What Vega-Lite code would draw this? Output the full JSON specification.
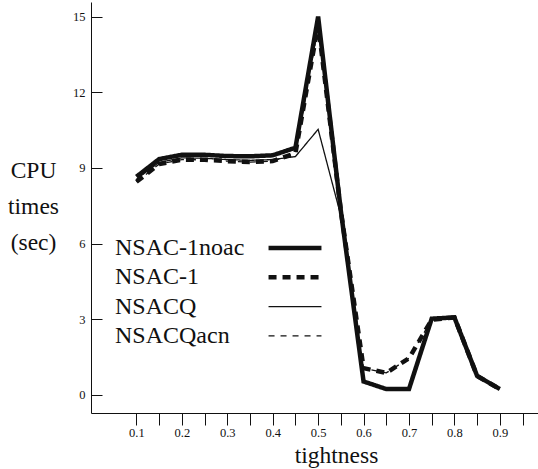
{
  "$schema": "https://vega.github.io/schema/vega-lite/v6.json",
  "width": 447,
  "height": 411,
  "autosize": "none",
  "padding": {"left": 91, "top": 2, "right": 0, "bottom": 56},
  "background": "white",
  "config": {"view": {"stroke": null}, "font": "Liberation Serif"},
  "data": {"values": [
    {"method": "NSAC-1noac", "tightness": 0.1, "cpu": 8.65},
    {"method": "NSAC-1noac", "tightness": 0.15, "cpu": 9.35},
    {"method": "NSAC-1noac", "tightness": 0.2, "cpu": 9.52},
    {"method": "NSAC-1noac", "tightness": 0.25, "cpu": 9.52},
    {"method": "NSAC-1noac", "tightness": 0.3, "cpu": 9.47},
    {"method": "NSAC-1noac", "tightness": 0.35, "cpu": 9.46},
    {"method": "NSAC-1noac", "tightness": 0.4, "cpu": 9.5},
    {"method": "NSAC-1noac", "tightness": 0.45, "cpu": 9.8},
    {"method": "NSAC-1noac", "tightness": 0.5, "cpu": 15.0},
    {"method": "NSAC-1noac", "tightness": 0.55, "cpu": 7.3},
    {"method": "NSAC-1noac", "tightness": 0.6, "cpu": 0.53},
    {"method": "NSAC-1noac", "tightness": 0.65, "cpu": 0.23},
    {"method": "NSAC-1noac", "tightness": 0.7, "cpu": 0.23},
    {"method": "NSAC-1noac", "tightness": 0.75, "cpu": 3.02},
    {"method": "NSAC-1noac", "tightness": 0.8, "cpu": 3.07},
    {"method": "NSAC-1noac", "tightness": 0.85, "cpu": 0.75},
    {"method": "NSAC-1noac", "tightness": 0.9, "cpu": 0.23},
    {"method": "NSAC-1", "tightness": 0.1, "cpu": 8.45},
    {"method": "NSAC-1", "tightness": 0.15, "cpu": 9.15},
    {"method": "NSAC-1", "tightness": 0.2, "cpu": 9.33},
    {"method": "NSAC-1", "tightness": 0.25, "cpu": 9.32},
    {"method": "NSAC-1", "tightness": 0.3, "cpu": 9.27},
    {"method": "NSAC-1", "tightness": 0.35, "cpu": 9.23},
    {"method": "NSAC-1", "tightness": 0.4, "cpu": 9.27},
    {"method": "NSAC-1", "tightness": 0.45, "cpu": 9.58},
    {"method": "NSAC-1", "tightness": 0.5, "cpu": 14.7},
    {"method": "NSAC-1", "tightness": 0.55, "cpu": 7.3},
    {"method": "NSAC-1", "tightness": 0.6, "cpu": 1.06},
    {"method": "NSAC-1", "tightness": 0.65, "cpu": 0.87},
    {"method": "NSAC-1", "tightness": 0.7, "cpu": 1.45},
    {"method": "NSAC-1", "tightness": 0.75, "cpu": 2.98},
    {"method": "NSAC-1", "tightness": 0.8, "cpu": 3.07},
    {"method": "NSAC-1", "tightness": 0.85, "cpu": 0.75},
    {"method": "NSAC-1", "tightness": 0.9, "cpu": 0.23},
    {"method": "NSACQ", "tightness": 0.1, "cpu": 8.55},
    {"method": "NSACQ", "tightness": 0.15, "cpu": 9.22},
    {"method": "NSACQ", "tightness": 0.2, "cpu": 9.4},
    {"method": "NSACQ", "tightness": 0.25, "cpu": 9.38},
    {"method": "NSACQ", "tightness": 0.3, "cpu": 9.33},
    {"method": "NSACQ", "tightness": 0.35, "cpu": 9.3},
    {"method": "NSACQ", "tightness": 0.4, "cpu": 9.33},
    {"method": "NSACQ", "tightness": 0.45, "cpu": 9.45},
    {"method": "NSACQ", "tightness": 0.5, "cpu": 10.53},
    {"method": "NSACQ", "tightness": 0.55, "cpu": 7.1},
    {"method": "NSACQ", "tightness": 0.6, "cpu": 0.53},
    {"method": "NSACQ", "tightness": 0.65, "cpu": 0.23},
    {"method": "NSACQ", "tightness": 0.7, "cpu": 0.23},
    {"method": "NSACQ", "tightness": 0.75, "cpu": 3.02},
    {"method": "NSACQ", "tightness": 0.8, "cpu": 3.07},
    {"method": "NSACQ", "tightness": 0.85, "cpu": 0.75},
    {"method": "NSACQ", "tightness": 0.9, "cpu": 0.23},
    {"method": "NSACQacn", "tightness": 0.1, "cpu": 8.45},
    {"method": "NSACQacn", "tightness": 0.15, "cpu": 9.15},
    {"method": "NSACQacn", "tightness": 0.2, "cpu": 9.33},
    {"method": "NSACQacn", "tightness": 0.25, "cpu": 9.32},
    {"method": "NSACQacn", "tightness": 0.3, "cpu": 9.27},
    {"method": "NSACQacn", "tightness": 0.35, "cpu": 9.23},
    {"method": "NSACQacn", "tightness": 0.4, "cpu": 9.27},
    {"method": "NSACQacn", "tightness": 0.45, "cpu": 9.58},
    {"method": "NSACQacn", "tightness": 0.5, "cpu": 14.6},
    {"method": "NSACQacn", "tightness": 0.55, "cpu": 7.3},
    {"method": "NSACQacn", "tightness": 0.6, "cpu": 1.06},
    {"method": "NSACQacn", "tightness": 0.65, "cpu": 0.87},
    {"method": "NSACQacn", "tightness": 0.7, "cpu": 1.45},
    {"method": "NSACQacn", "tightness": 0.75, "cpu": 2.98},
    {"method": "NSACQacn", "tightness": 0.8, "cpu": 3.07},
    {"method": "NSACQacn", "tightness": 0.85, "cpu": 0.75},
    {"method": "NSACQacn", "tightness": 0.9, "cpu": 0.23}
  ]},
  "mark": {"type": "line", "color": "#111"},
  "encoding": {
    "x": {
      "field": "tightness", "type": "quantitative",
      "scale": {"domain": [0, 0.984], "nice": false, "zero": false},
      "axis": {
        "values": [0.1, 0.15, 0.2, 0.25, 0.3, 0.35, 0.4, 0.45, 0.5, 0.55, 0.6, 0.65, 0.7, 0.75, 0.8, 0.85, 0.9, 0.95],
        "labelExpr": "(datum.value > 0.92 || round(datum.value * 100) % 10 != 0) ? '' : format(datum.value, '.1f')",
        "labelOverlap": false, "labelFlush": false,
        "grid": false,
        "tickSize": 12, "tickColor": "#111", "domainColor": "#111",
        "labelFont": "Liberation Serif", "labelFontSize": 12.5, "labelPadding": 1, "labelColor": "#111",
        "title": "tightness", "titleFont": "Liberation Serif", "titleFontSize": 23.5, "titleFontWeight": "normal", "titleColor": "#111",
        "titleX": 245, "titleY": 49, "titleAlign": "center", "titleBaseline": "alphabetic"
      }
    },
    "y": {
      "field": "cpu", "type": "quantitative",
      "scale": {"domain": [-0.72, 15.58], "nice": false, "zero": false},
      "axis": {
        "values": [0, 3, 6, 9, 12, 15],
        "format": "d",
        "grid": false,
        "tickSize": -11, "tickColor": "#111", "domainColor": "#111",
        "labelFont": "Liberation Serif", "labelFontSize": 12.5, "labelPadding": 17, "labelColor": "#111",
        "title": ["CPU", "times", "(sec)"], "titleAngle": 0, "titleFont": "Liberation Serif", "titleFontSize": 23.5, "titleFontWeight": "normal", "titleColor": "#111",
        "titleX": -58, "titleY": 175, "titleAlign": "center", "titleBaseline": "alphabetic", "titleLineHeight": 36
      }
    },
    "strokeDash": {
      "field": "method", "type": "nominal",
      "scale": {"domain": ["NSAC-1noac", "NSAC-1", "NSACQ", "NSACQacn"], "range": [[1, 0], [8, 6], [1, 0], [6, 6]]},
      "legend": {"orient": "none", "legendX": 192, "legendY": 234, "title": null, "labelFont": "Liberation Serif", "labelFontSize": 24, "labelColor": "#111", "symbolType": "M-5,0H5", "symbolSize": 112, "symbolStrokeColor": "#111", "labelOffset": -192, "rowPadding": 5.3, "padding": 0}
    },
    "strokeWidth": {
      "field": "method", "type": "nominal",
      "scale": {"type": "ordinal", "domain": ["NSAC-1noac", "NSAC-1", "NSACQ", "NSACQacn"], "range": [4.5, 4.5, 1.3, 1.3]},
      "legend": {"orient": "none", "legendX": 192, "legendY": 234, "title": null, "labelFont": "Liberation Serif", "labelFontSize": 24, "labelColor": "#111", "symbolType": "M-5,0H5", "symbolSize": 112, "symbolStrokeColor": "#111", "labelOffset": -192, "rowPadding": 5.3, "padding": 0}
    }
  }
}
